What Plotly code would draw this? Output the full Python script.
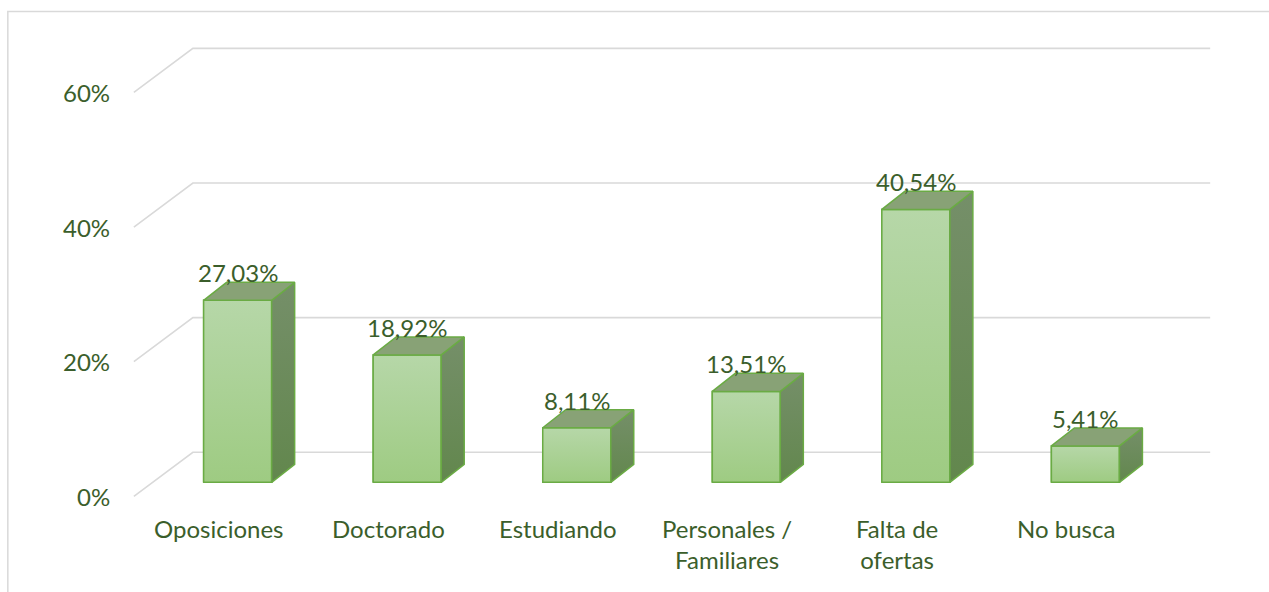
import plotly.graph_objects as go

categories = ["Oposiciones", "Doctorado", "Estudiando", "Personales /<br>Familiares",
              "Falta de<br>ofertas", "No busca"]
values = [27.03, 18.92, 8.11, 13.51, 40.54, 5.41]
y_ticks = [0, 20, 40, 60]
y_tick_labels = ["0%", "20%", "40%", "60%"]

W, H = 1269, 592
SX = 169.5   # px per category unit
SY = 6.72    # px per percent
XR = [-0.8, 5.9]
YR = [-5, 66]
L = 153 - (-0.5 - XR[0]) * SX
PW = (XR[1] - XR[0]) * SX
R = W - L - PW
T = 482 - YR[1] * SY
PH = (YR[1] - YR[0]) * SY
B = H - T - PH

# perspective offsets (pixels -> data units)
dxF, dyF = -19 / SX, -14 / SY     # front floor edge
dxB, dyB = 40 / SX, 30 / SY       # back wall
dxD, dyD = 23 / SX, 18 / SY       # bar depth
BW = 68 / SX

TXT = "#3b5e2b"
GRID = "#d9d9d9"
EDGE = "#6aab44"
FONT = "Lato"
FS = 24

fig = go.Figure()

fig.add_trace(go.Bar(
    x=list(range(len(values))), y=values, width=BW,
    marker=dict(color="#a9d08f", line=dict(color=EDGE, width=1.5)),
    hoverinfo="skip", showlegend=False))

for i, v in enumerate(values):
    xr = i + BW / 2
    xl = i - BW / 2
    # front face gradient
    fig.add_trace(go.Scatter(
        x=[xl, xr, xr, xl, xl], y=[0, 0, v, v, 0],
        fill="toself", mode="lines",
        fillgradient=dict(type="vertical", colorscale=[[0, "#9ecb82"], [1, "#b6d7a8"]]),
        line=dict(color=EDGE, width=1.5), hoverinfo="skip", showlegend=False))
    # side face
    fig.add_trace(go.Scatter(
        x=[xr, xr + dxD, xr + dxD, xr, xr], y=[0, dyD, v + dyD, v, 0],
        fill="toself", mode="lines",
        fillgradient=dict(type="vertical", colorscale=[[0, "#62874d"], [1, "#758f69"]]),
        line=dict(color=EDGE, width=1.5), hoverinfo="skip", showlegend=False))
    # top face
    fig.add_trace(go.Scatter(
        x=[xl, xl + dxD, xr + dxD, xr, xl], y=[v, v + dyD, v + dyD, v, v],
        fill="toself", fillcolor="#88a276", mode="lines",
        line=dict(color=EDGE, width=1.5), hoverinfo="skip", showlegend=False))

shapes = []
for v in y_ticks:
    shapes.append(dict(type="path", xref="x", yref="y", layer="below",
                       path=f"M {-0.5 + dxF},{v + dyF} L {-0.5 + dxB},{v + dyB} L {5.5 + dxB},{v + dyB}",
                       line=dict(color=GRID, width=1.6)))
# chart border
shapes.append(dict(type="rect", xref="paper", yref="paper",
                   x0=(8 - L) / PW, x1=(1290 - L) / PW,
                   y0=(T + PH - 600) / PH, y1=(T + PH - 12) / PH,
                   line=dict(color=GRID, width=1.5), layer="below"))

ann = []
for i, v in enumerate(values):
    ann.append(dict(x=i, y=v, xref="x", yref="y", yanchor="bottom", yshift=11,
                    text=f"{v:.2f}".replace(".", ",") + "%", showarrow=False,
                    font=dict(family=FONT, size=FS, color=TXT)))
for i, c in enumerate(categories):
    ann.append(dict(x=i + dxF, y=dyF, xref="x", yref="y", yanchor="top", yshift=-16,
                    text=c, showarrow=False, align="center",
                    font=dict(family=FONT, size=FS, color=TXT)))
for v, lab in zip(y_ticks, y_tick_labels):
    ann.append(dict(x=-0.5 + dxF, y=v + dyF, xref="x", yref="y", xanchor="right",
                    yanchor="middle", xshift=-22, text=lab, showarrow=False,
                    font=dict(family=FONT, size=FS, color=TXT)))

fig.update_layout(
    width=W, height=H,
    margin=dict(l=L, r=R, t=T, b=B),
    paper_bgcolor="white", plot_bgcolor="white",
    xaxis=dict(range=XR, visible=False, fixedrange=True),
    yaxis=dict(range=YR, visible=False, fixedrange=True),
    shapes=shapes, annotations=ann, showlegend=False,
)

fig.write_html("out.html", config={"displayModeBar": False},
               post_script="document.body.style.margin='0';document.body.style.overflow='hidden';")
